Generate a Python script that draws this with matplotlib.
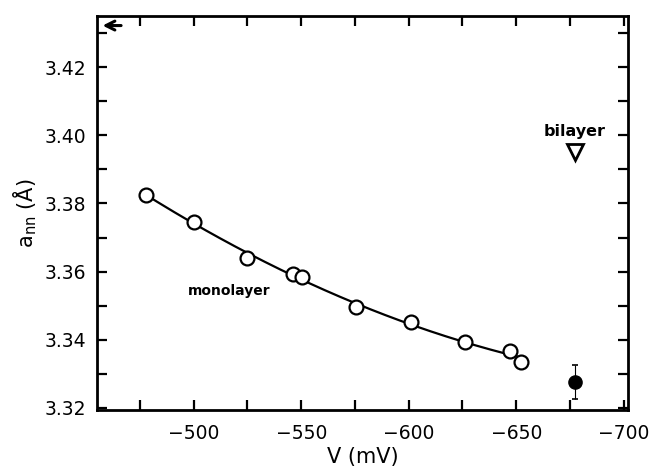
import numpy as np
import matplotlib
matplotlib.use("Agg")
import matplotlib.pyplot as plt
from matplotlib.ticker import MultipleLocator

# monolayer points (V in mV, a_nn in Angstrom)
mono_v = [-478, -500, -525, -546, -550.5, -575.5, -601, -626, -647, -652]
mono_a = [3.3826, 3.3745, 3.3641, 3.3593, 3.3583, 3.3496, 3.3453, 3.3394, 3.3367, 3.3336]

# bilayer point
bi_v = [-677.5]
bi_a = [3.395]

# filled point with error bar
fill_v = [-677.5]
fill_a = [3.3277]
fill_err = [0.005]

plt.rcParams['font.family'] = ['DejaVu Sans']

fig = plt.figure(figsize=(6.58, 4.71), dpi=100)
ax = fig.add_axes([0.1474, 0.1295, 0.807, 0.8365])

# smooth fitted curve through the monolayer points
coef = np.polyfit(mono_v, mono_a, 2)
vv = np.linspace(min(mono_v), max(mono_v), 200)
ax.plot(vv, np.polyval(coef, vv), color="black", lw=1.6, zorder=2)

ax.plot(mono_v, mono_a, "o", ms=10, mfc="white", mec="black", mew=1.6, zorder=3)
ax.plot(bi_v, bi_a, "v", ms=11, mfc="white", mec="black", mew=2, zorder=3)
ax.errorbar(fill_v, fill_a, yerr=fill_err, fmt="o", ms=9.5, color="black",
            ecolor="black", elinewidth=0.8, capsize=2.5, capthick=1.2, zorder=3)

ax.text(-677, 3.4012, "bilayer", ha="center", va="center", fontsize=11.5,
        fontweight="bold")
ax.text(-516.5, 3.3542, "monolayer", ha="center", va="center", fontsize=10,
        fontweight="bold")

ax.annotate("", xy=(-456.3, 3.4322), xytext=(-467.5, 3.4322),
            arrowprops=dict(arrowstyle="->", lw=2.2, color="black",
                            mutation_scale=16))

ax.set_xlim(-455, -702)
ax.set_ylim(3.3194, 3.435)

ax.xaxis.set_major_locator(MultipleLocator(50))
ax.xaxis.set_minor_locator(MultipleLocator(25))
ax.yaxis.set_major_locator(MultipleLocator(0.02))
ax.yaxis.set_minor_locator(MultipleLocator(0.01))
ax.yaxis.set_major_formatter(plt.FormatStrFormatter("%.2f"))

ax.tick_params(axis="both", which="both", direction="in", top=True, right=True,
               length=7.5, width=1.6, labelsize=13.5, pad=8)
ax.tick_params(axis="x", pad=10)
for s in ax.spines.values():
    s.set_linewidth(2)

ax.set_xlabel("V (mV)", fontsize=15, labelpad=3)
ax.set_ylabel(r"a$_{\rm nn}$ (Å)", fontsize=15, labelpad=4)

fig.savefig("out.png", dpi=100)
